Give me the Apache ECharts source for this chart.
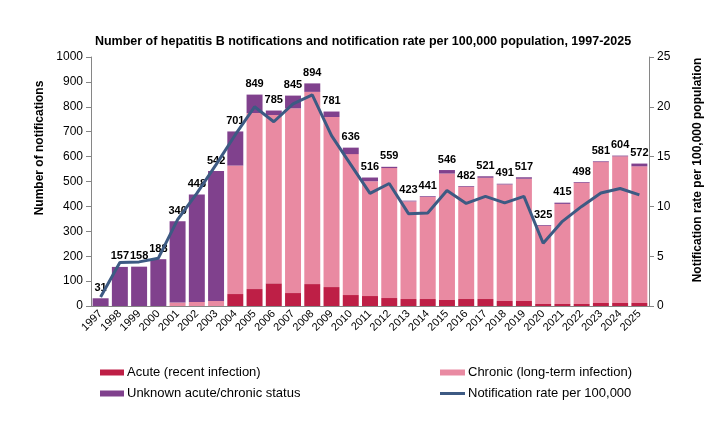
<!DOCTYPE html>
<html>
<head>
<meta charset="utf-8">
<script src="https://cdn.jsdelivr.net/npm/echarts@6/dist/echarts.min.js"></script>
<style>
  html, body { margin: 0; padding: 0; background: #fff; }
  #chart { width: 726px; height: 438px; }
</style>
</head>
<body>
<div id="chart"></div>
<script>
var years = ['1997','1998','1999','2000','2001','2002','2003','2004','2005','2006','2007','2008','2009','2010',
    '2011','2012','2013','2014','2015','2016','2017','2018','2019','2020','2021','2022','2023','2024','2025'];
var acute = [0,0,0,0,0,0,0,48,68,91,52,88,76,44,40,32,28,28,24,28,28,20,20,8,8,8,12,12,12];
var chronic = [0,0,0,0,14,16,20,516,707,676,742,772,683,566,461,522,392,410,508,451,487,468,491,314,402,487,566,589,549];
var unknown = [31,157,158,188,326,432,522,137,74,18,51,34,22,26,15,5,3,3,14,3,6,3,6,3,5,3,3,3,11];
var totals = [31,157,158,188,340,448,542,701,849,785,845,894,781,636,516,559,423,441,546,482,521,491,517,325,415,498,581,604,572];
var rate = [0.9,4.37,4.43,4.8,8.67,11.3,14.2,17.2,20.0,18.5,20.3,21.2,17.1,14.2,11.3,12.3,9.27,9.34,11.6,10.3,
    11.0,10.35,11.0,6.3,8.5,10.0,11.35,11.8,11.15];

var font = 'Liberation Sans, Arial, sans-serif';
var axisGrey = '#868686';
var cAcute = '#BE1F46', cChronic = '#E98AA2', cUnknown = '#80418D', cLine = '#3D5A83';

function legendAt(name, left, top, w, h) {
    return {
        data: [{ name: name, icon: 'rect' }],
        left: left, top: top,
        itemWidth: w, itemHeight: h,
        textStyle: { fontSize: 13, color: '#000', fontFamily: font, padding: [0, 0, 0, -2] }
    };
}

var option = {
    textStyle: { fontFamily: font },
    title: {
        text: 'Number of hepatitis B notifications and notification rate per 100,000 population, 1997-2025',
        left: 'center',
        top: 30,
        textStyle: { fontSize: 12.5, fontWeight: 'bold', color: '#000', fontFamily: font }
    },
    legend: [
        legendAt('Acute (recent infection)', 95, 361, 24, 6),
        legendAt('Unknown acute/chronic status', 95, 382, 24, 6),
        legendAt('Chronic (long-term infection)', 435, 361, 25, 6),
        legendAt('Notification rate per 100,000', 435, 382, 25, 3)
    ],
    graphic: [
        {
            type: 'text', x: 40, y: 148, rotation: Math.PI / 2,
            style: { text: 'Number of notifications', font: 'bold 12px ' + font, fill: '#000',
                align: 'center', verticalAlign: 'middle' }
        },
        {
            type: 'text', x: 698, y: 170, rotation: Math.PI / 2,
            style: { text: 'Notification rate per 100,000 population', font: 'bold 12px ' + font, fill: '#000',
                align: 'center', verticalAlign: 'middle' }
        }
    ],
    grid: { left: 91, right: 77, top: 57, bottom: 132 },
    xAxis: {
        type: 'category',
        data: years,
        axisLine: { lineStyle: { color: axisGrey } },
        axisTick: { lineStyle: { color: axisGrey } },
        axisLabel: { rotate: 45, fontSize: 11, color: '#000', margin: 6, interval: 0 }
    },
    yAxis: [
        {
            type: 'value',
            min: 0, max: 1000, interval: 100,
            splitLine: { show: false },
            axisLine: { show: true, lineStyle: { color: axisGrey } },
            axisTick: { show: true, lineStyle: { color: axisGrey } },
            axisLabel: { fontSize: 12, color: '#000', formatter: function (v) { return String(v); } }
        },
        {
            type: 'value',
            min: 0, max: 25, interval: 5,
            splitLine: { show: false },
            axisLine: { show: true, lineStyle: { color: axisGrey } },
            axisTick: { show: true, lineStyle: { color: axisGrey } },
            axisLabel: { fontSize: 12, color: '#000' }
        }
    ],
    series: [
        {
            name: 'Acute (recent infection)',
            type: 'bar', stack: 'n',
            barCategoryGap: '17%',
            itemStyle: { color: cAcute },
            data: acute
        },
        {
            name: 'Chronic (long-term infection)',
            type: 'bar', stack: 'n',
            itemStyle: { color: cChronic },
            data: chronic
        },
        {
            name: 'Unknown acute/chronic status',
            type: 'bar', stack: 'n',
            itemStyle: { color: cUnknown },
            label: {
                show: true,
                position: 'top',
                distance: 5,
                fontSize: 11,
                fontWeight: 'bold',
                color: '#000',
                formatter: function (p) { return totals[p.dataIndex]; }
            },
            data: unknown
        },
        {
            name: 'Notification rate per 100,000',
            type: 'line',
            yAxisIndex: 1,
            symbol: 'none',
            lineStyle: { color: cLine, width: 3 },
            itemStyle: { color: cLine },
            z: 5,
            data: rate
        }
    ]
};

echarts.init(document.getElementById('chart')).setOption(option);
</script>
</body>
</html>
